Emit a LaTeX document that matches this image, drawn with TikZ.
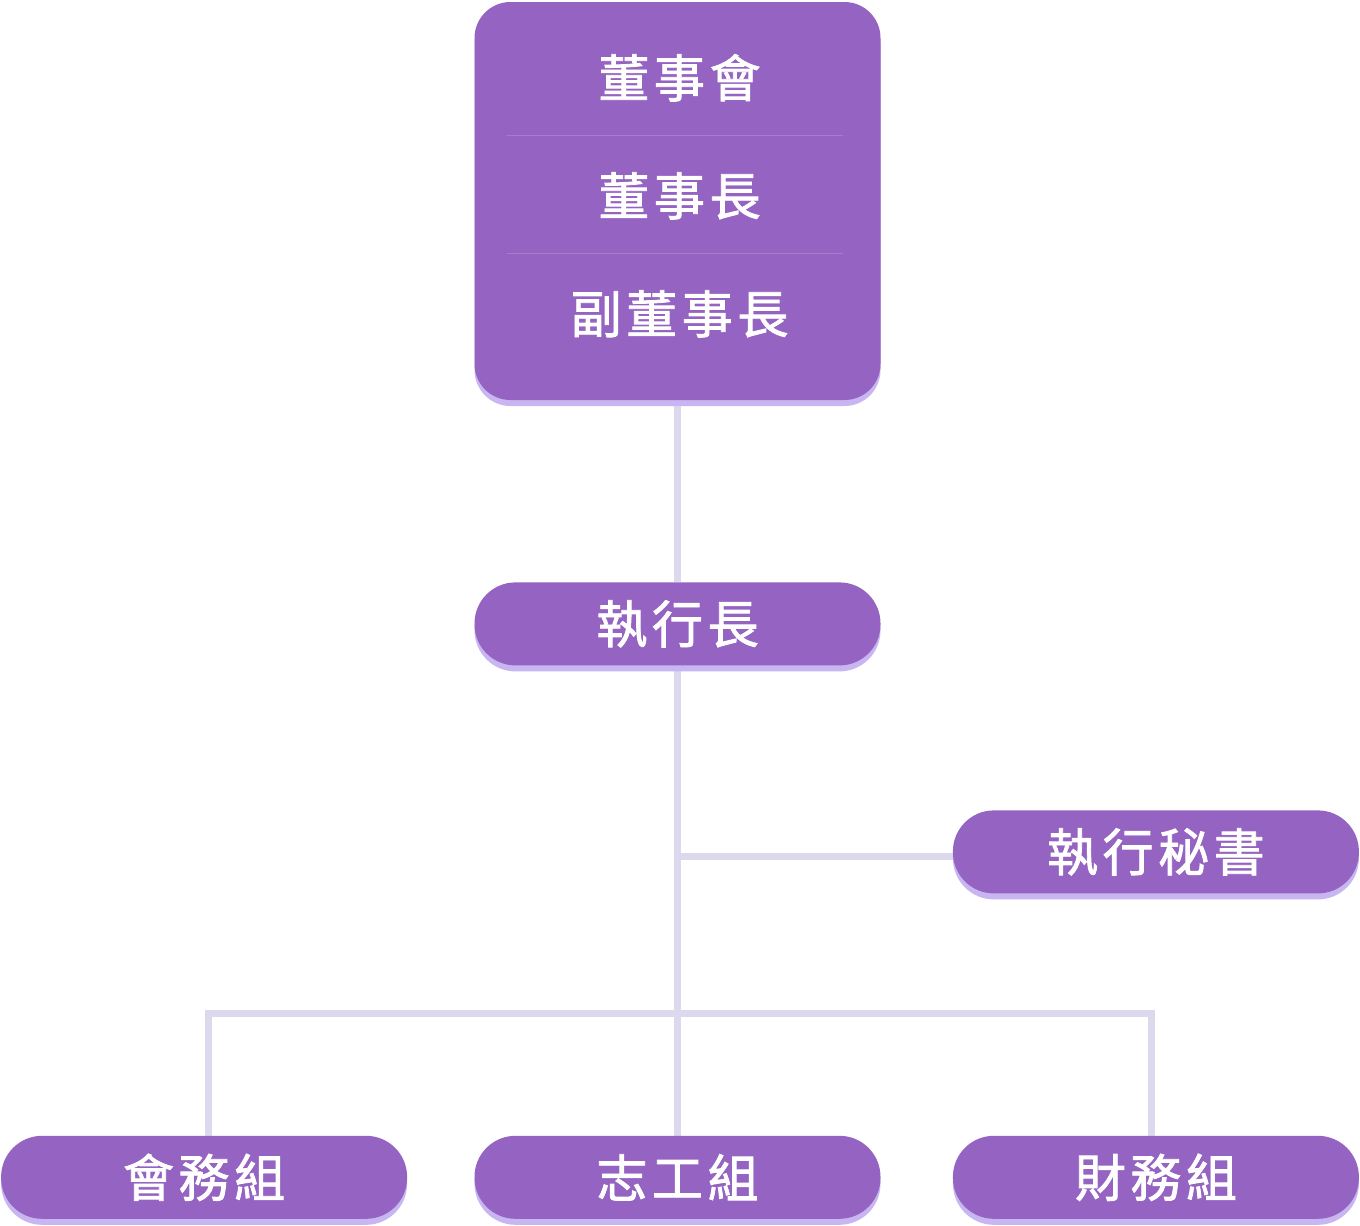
\documentclass[tikz,border=0pt]{standalone}
\usepackage{fontspec}
\newfontfamily\cjk{Noto Sans CJK TC}[LetterSpace=9,FakeBold=1.6]
\usetikzlibrary{calc}
\usetikzlibrary{positioning}
\usetikzlibrary{shadows}
\definecolor{orgpurple}{HTML}{9563C1}
\definecolor{orgshadow}{HTML}{C8B6F2}
\definecolor{orgline}{HTML}{DCD9EE}
\definecolor{orgrule}{HTML}{A37FCB}
\pgfdeclarelayer{background}
\pgfsetlayers{background,main}

\begin{document}
\begin{tikzpicture}[
		unit/.style={fill=orgpurple,rounded corners=41pt,minimum width=406pt,minimum height=83pt,
			text=white,font=\cjk\fontsize{51}{51}\selectfont,inner sep=0pt,
			drop shadow={shadow xshift=0pt,shadow yshift=-6pt,fill=orgshadow,opacity=1}},
		bigbox/.style={unit,rounded corners=36pt,minimum height=398pt},
		title/.style={text=white,font=\cjk\fontsize{51}{51}\selectfont,inner sep=0pt},
		link/.style={draw=orgline,line width=7pt},
		node distance=182pt
	]
		\useasboundingbox (0,0) rectangle (1360pt,-1226pt);

		\node [bigbox] (board) at (677.5pt,-201pt) {};
		\node [title] (council) at ($(board.north)+(2pt,-76pt)$) {董事會};
		\node [title,below=118pt of council.center,anchor=center] (chair) {董事長};
		\node [title,below=118pt of chair.center,anchor=center] (vice) {副董事長};
		\draw [orgrule,line width=1pt] ($(board.north west)+(33pt,-134pt)$) -- ($(board.north east)+(-38pt,-134pt)$);
		\draw [orgrule,line width=1pt] ($(board.north west)+(33pt,-252pt)$) -- ($(board.north east)+(-38pt,-252pt)$);

		\node [unit,below=of board] (ceo) {執行長};
		\node [unit,below=470pt of ceo] (volunteer) {志工組};
		\node [unit,left=67pt of volunteer] (affairs) {會務組};
		\node [unit,right=72pt of volunteer] (finance) {財務組};
		\node [unit,above=242pt of finance] (secretary) {執行秘書};

		\coordinate (bus) at ($(volunteer.north)+(0,122pt)$);
		\coordinate (tap) at ($(secretary.west)+(0,-5pt)$);

		\begin{pgfonlayer}{background}
			\draw [link] (board) -- (ceo);
			\draw [link] (ceo) -- (volunteer);
			\draw [link] (tap) -- (tap -| ceo.south);
			\draw [link] ($(affairs.north)+(4pt,0)$) |- (bus) -| ($(finance.north)+(-4pt,0)$);
		\end{pgfonlayer}
	\end{tikzpicture}
\end{document}
